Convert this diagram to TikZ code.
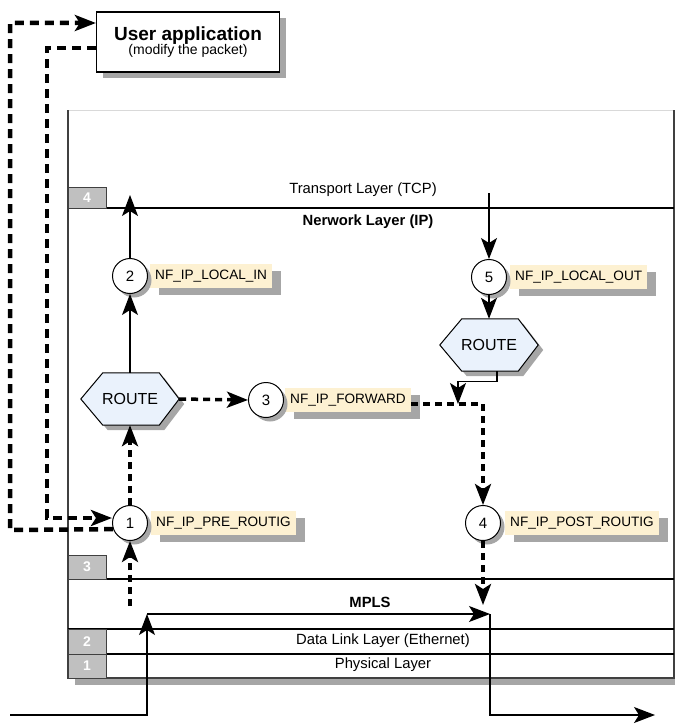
\documentclass[tikz,border=0pt]{standalone}
\usepackage{fontspec}
\setmainfont{Liberation Sans}
\usetikzlibrary{arrows.meta,shadows,calc}

\definecolor{labelfill}{HTML}{FDF1D2}
\definecolor{routefill}{HTML}{EAF2FC}
\definecolor{shadowgray}{HTML}{A6A6A6}
\definecolor{layerbox}{HTML}{C0C0C0}
\definecolor{frameline}{HTML}{404040}

\tikzset{
  tip/.style={-{Stealth[length=21pt,width=16pt,inset=5pt]}},
  solidline/.style={line width=1.2pt},
  bigdash/.style={line width=4.5pt, dash pattern=on 9pt off 6pt},
  smalldash/.style={line width=3.5pt, dash pattern=on 7pt off 5pt},
  hook/.style={circle, draw, fill=white, line width=1pt, minimum size=35pt,
    inner sep=0pt, font=\fontsize{15}{17}\selectfont,
    general shadow={fill=shadowgray, shadow xshift=4pt, shadow yshift=-4pt}},
  hooklabel/.style={fill=labelfill, anchor=west, minimum height=24pt,
    inner xsep=5pt, font=\fontsize{13.6}{15}\selectfont,
    general shadow={fill=shadowgray, shadow xshift=9pt, shadow yshift=-7pt}},
  routebox/.style={minimum width=98pt, minimum height=52pt, inner sep=0pt,
    font=\fontsize{16}{18}\selectfont},
  layerno/.style={draw=frameline, fill=layerbox, line width=0.8pt,
    minimum width=38pt, inner sep=0pt, text=white,
    font=\bfseries\fontsize{14}{16}\selectfont},
  layertext/.style={font=\fontsize{14.8}{17}\selectfont},
  appbox/.style={draw, fill=white, line width=1.2pt, minimum width=183pt,
    minimum height=60pt, align=center,
    general shadow={fill=shadowgray, shadow xshift=6pt, shadow yshift=-6pt}},
}

% hexagonal ROUTE decision box around a named node
\newcommand{\hexroute}[1]{%
  \fill[shadowgray, transform canvas={shift={(5pt,-5pt)}}]
    (#1.west) -- ([xshift=22pt]#1.north west) -- ([xshift=-20pt]#1.north east)
    -- (#1.east) -- ([xshift=-20pt]#1.south east) -- ([xshift=22pt]#1.south west) -- cycle;
  \filldraw[fill=routefill, draw=black, line width=1pt]
    (#1.west) -- ([xshift=22pt]#1.north west) -- ([xshift=-20pt]#1.north east)
    -- (#1.east) -- ([xshift=-20pt]#1.south east) -- ([xshift=22pt]#1.south west) -- cycle;
}

\begin{document}
\begin{tikzpicture}[x=1pt,y=-1pt]
\useasboundingbox (0,0) rectangle (675,725);

% ---- protocol stack frame ----
\fill[shadowgray] (75,678) rectangle (675,685);
\draw[gray!30, line width=0.6pt] (68,110) -- (674,110);
\draw[frameline, line width=1.2pt] (68,110) -- (68,678) -- (674,678) -- (674,110);
\draw[line width=1.2pt] (68,208) -- (674,208);
\draw[line width=1.2pt] (68,579) -- (674,579);
\draw[line width=1.2pt] (68,629) -- (674,629);
\draw[line width=1.2pt] (68,654) -- (674,654);

\node[layerno, minimum height=21pt] (n4) at (87,197.5) {4};
\node[layerno, minimum height=24pt] (n3) at (87,567) {3};
\node[layerno, minimum height=25pt] (n2) at (87,641.5) {2};
\node[layerno, minimum height=24pt] (n1) at (87,666) {1};

\node[layertext] (tl) at (363,190) {Transport Layer (TCP)};
\node[layertext, font=\bfseries\fontsize{14.8}{17}\selectfont] (nl) at (368,222) {Nerwork Layer (IP)};
\node[layertext, font=\bfseries\fontsize{14.8}{17}\selectfont] (ml) at (370,602) {MPLS};
\node[layertext] (dl) at (383,641) {Data Link Layer (Ethernet)};
\node[layertext] (pl) at (383,665) {Physical Layer};

% ---- user space application ----
\node[appbox] (app) at (188,42)
  {{\bfseries\fontsize{19}{21}\selectfont User application}\\[-1pt]
   {\fontsize{14}{16}\selectfont (modify the packet)}};

% ---- hook labels (under the circles) ----
\node[hooklabel] (l1) at (151,523) {NF\_IP\_PRE\_ROUTIG};
\node[hooklabel] (l2) at (150,276) {NF\_IP\_LOCAL\_IN};
\node[hooklabel] (l3) at (285,400) {NF\_IP\_FORWARD};
\node[hooklabel] (l4) at (505,523) {NF\_IP\_POST\_ROUTIG};
\node[hooklabel] (l5) at (510,277) {NF\_IP\_LOCAL\_OUT};

% ---- netfilter hooks ----
\node[hook] (c1) at (130,523) {1};
\node[hook] (c2) at (130,276) {2};
\node[hook] (c3) at (266,400) {3};
\node[hook] (c4) at (483,523) {4};
\node[hook] (c5) at (489,277) {5};

% ---- routing decisions ----
\node[routebox] (route1) at (130,399) {};
\hexroute{route1}
\node[routebox] (route1t) at (route1) {ROUTE};
\node[routebox] (route2) at (489,345) {};
\hexroute{route2}
\node[routebox] (route2t) at (route2) {ROUTE};

% ---- junction and end points ----
\coordinate (t4) at (130,195);
\coordinate (t5) at (489,193);
\coordinate (ul) at (10,23);
\coordinate (ll) at (10,530);
\coordinate (ur) at (47,48);
\coordinate (lr) at (47,518);
\coordinate (j1) at (483,404);
\coordinate (j2) at (458,404);
\coordinate (m1) at (130,606);
\coordinate (m4) at (483,605);
\coordinate (in0) at (10,715);
\coordinate (in1) at (147,715);
\coordinate (mp1) at (147,614);
\coordinate (mp2) at (490,614);
\coordinate (out1) at (490,715);
\coordinate (out2) at (655,715);

% ---- packet to and from user space ----
\draw[bigdash, tip] (c1.200) -- (ll) -- (ul) -- (ul -| app.west);
\draw[bigdash, tip] ($(app.west)+(0,6)$) -- (ur) -- (lr) -- (lr -| c1.west);

% ---- local input path ----
\draw[smalldash, tip] (m1) -- (c1.south);
\draw[smalldash, tip] (c1.north) -- (route1.south);
\draw[solidline, tip] (route1.north) -- (c2.south);
\draw[solidline, tip] (c2.north) -- (t4);

% ---- forward path ----
\draw[smalldash, tip] (route1.east) -- (c3.west);
\draw[smalldash] ($(l3.east)+(0,4)$) -- (j1);
\draw[smalldash, tip] (j1) -- (c4.north);
\draw[smalldash, tip] (c4.south) -- (m4);

% ---- local output path ----
\draw[solidline, tip] (t5) -- (c5.north);
\draw[solidline, tip] (c5.south) -- (route2.north);
\draw[solidline, tip] ($(route2.south)+(8,0)$) -- ++(0,10) -| (j2);

% ---- wire in and out ----
\draw[solidline, tip] (in0) -- (in1) -- (mp1);
\draw[solidline, tip] (mp1) -- (mp2);
\draw[solidline, tip] (mp2) -- (out1) -- (out2);
\end{tikzpicture}
\end{document}
